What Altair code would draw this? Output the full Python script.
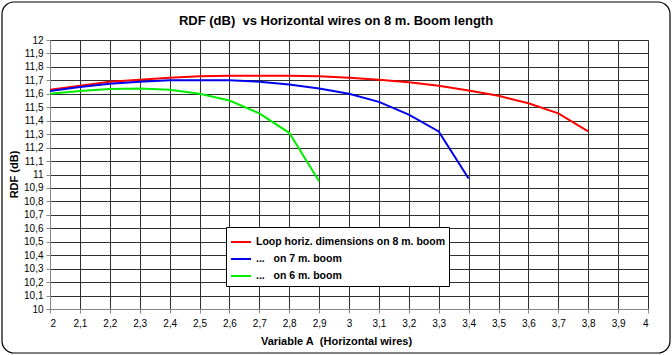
import altair as alt
import pandas as pd

# ---- data ----
x_red = [2.0, 2.1, 2.2, 2.3, 2.4, 2.5, 2.6, 2.7, 2.8, 2.9, 3.0, 3.1, 3.2, 3.3, 3.4, 3.5, 3.6, 3.7, 3.8]
y_red = [11.63, 11.66, 11.69, 11.705, 11.72, 11.73, 11.735, 11.735, 11.735, 11.73, 11.72, 11.705, 11.685, 11.66, 11.625, 11.585, 11.53, 11.455, 11.32]

x_blue = [2.0, 2.1, 2.2, 2.3, 2.4, 2.5, 2.6, 2.7, 2.8, 2.9, 3.0, 3.1, 3.2, 3.3, 3.4]
y_blue = [11.62, 11.65, 11.675, 11.69, 11.70, 11.70, 11.70, 11.69, 11.67, 11.64, 11.60, 11.54, 11.445, 11.32, 10.97]

x_green = [2.0, 2.1, 2.2, 2.3, 2.4, 2.5, 2.6, 2.7, 2.8, 2.9]
y_green = [11.60, 11.62, 11.635, 11.64, 11.63, 11.60, 11.55, 11.455, 11.31, 10.95]

NB = "\u00a0"
series_names = ["Loop horiz. dimensions on 8 m. boom",
                "..." + NB * 3 + "on 7 m. boom",
                "..." + NB * 3 + "on 6 m. boom"]
series_colors = ["#FF0000", "#0000EE", "#00EE00"]

x_ticks = [2.0, 2.1, 2.2, 2.3, 2.4, 2.5, 2.6, 2.7, 2.8, 2.9, 3.0, 3.1, 3.2, 3.3, 3.4, 3.5, 3.6, 3.7, 3.8, 3.9, 4.0]
y_ticks = [10.0, 10.1, 10.2, 10.3, 10.4, 10.5, 10.6, 10.7, 10.8, 10.9, 11.0, 11.1, 11.2, 11.3, 11.4, 11.5, 11.6, 11.7, 11.8, 11.9, 12.0]

title_text = "RDF (dB)" + NB + " vs Horizontal wires on 8 m. Boom length"
x_title = "Variable A" + NB + " (Horizontal wires)"
y_title = "RDF (dB)"

rows = []
for name, xs, ys in zip(series_names, [x_red, x_blue, x_green], [y_red, y_blue, y_green]):
    for xv, yv in zip(xs, ys):
        rows.append({"series": name, "x": xv, "y": yv})
df = pd.DataFrame(rows)

FONT = "Liberation Sans"
GRID = "#303030"
label_expr = "replace(format(datum.value, '.1~f'), '.', ',')"

lines = alt.Chart(df).mark_line(strokeWidth=2, clip=True).encode(
    x=alt.X("x:Q",
            scale=alt.Scale(domain=[2, 4], nice=False, zero=False),
            axis=alt.Axis(values=x_ticks, labelExpr=label_expr, title=x_title,
                          grid=True, gridColor=GRID, gridOpacity=1, gridWidth=1,
                          tickSize=4, labelPadding=5, titleX=286, titleY=32,
                          titleBaseline="middle", titleAnchor="start", titleAlign="center")),
    y=alt.Y("y:Q",
            scale=alt.Scale(domain=[10, 12], nice=False, zero=False),
            axis=alt.Axis(values=y_ticks, labelExpr=label_expr, title=y_title,
                          grid=True, gridColor=GRID, gridOpacity=1, gridWidth=1,
                          tickSize=4, labelPadding=3, titleX=-36, titleY=134,
                          titleAngle=-90, titleAlign="center", titleBaseline="middle")),
    color=alt.Color("series:N",
                    scale=alt.Scale(domain=series_names, range=series_colors),
                    sort=series_names,
                    legend=alt.Legend(title=None, orient="none", legendX=176, legendY=187,
                                      symbolType="stroke", symbolSize=400, symbolStrokeWidth=2,
                                      labelFont=FONT, labelFontSize=10.5, labelFontWeight="bold",
                                      labelColor="#000", labelOffset=4,
                                      strokeColor="#000", fillColor="#fff", padding=4,
                                      rowPadding=-1, labelLimit=400)),
    order=alt.Order("x:Q"),
)

frame = alt.Chart(pd.DataFrame({"f": [0]})).mark_rect(
    fill=None, stroke="#000", strokeWidth=1.2, cornerRadius=12, clip=False
).encode(
    x=alt.value(-48), x2=alt.value(620), y=alt.value(-38), y2=alt.value(313)
)

chart = alt.layer(frame, lines).properties(
    width=598, height=269,
    autosize=alt.AutoSizeParams(type="none"),
    padding={"left": 50, "top": 40, "right": 24, "bottom": 46},
    title=alt.TitleParams(title_text, font=FONT, fontSize=13, fontWeight="bold",
                          color="#000", offset=-27, dx=-13, anchor="middle", frame="group"),
).configure_view(
    stroke="#000", strokeWidth=1
).configure_axis(
    domainColor="#000", tickColor="#000",
    labelFont=FONT, labelFontSize=11, labelColor="#000",
    titleFont=FONT, titleFontSize=11, titleFontWeight="bold", titleColor="#000",
).configure(background="#fff")

chart.save("out.html", embed_options={"renderer": "svg", "actions": False})
